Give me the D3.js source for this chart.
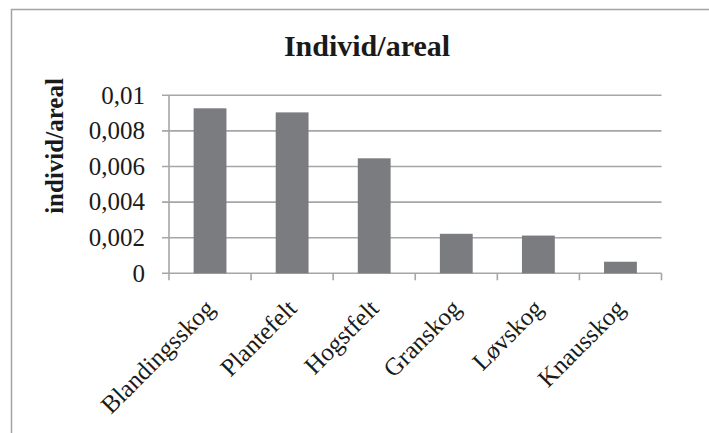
<!DOCTYPE html>
<html>
<head>
<meta charset="utf-8">
<style>
  body { margin: 0; background: #fff; }
  svg text { font-family: "Liberation Serif", "Times New Roman", serif; fill: #1a1a1a; }
</style>
</head>
<body>
<div id="chart"></div>
<script src="https://d3js.org/d3.v7.min.js"></script>
<script>
// data
var categories = ["Blandingsskog", "Plantefelt", "Hogstfelt", "Granskog", "Løvskog", "Knausskog"];
var values = [0.00927, 0.00904, 0.00646, 0.00222, 0.00212, 0.00065];
var yTicks = [0, 0.002, 0.004, 0.006, 0.008, 0.01];
var yTickLabels = ["0", "0,002", "0,004", "0,006", "0,008", "0,01"];
var chartTitle = "Individ/areal";
var yTitle = "individ/areal";

var width = 709, height = 433;
var plotLeft = 169, plotRight = 661.5, plotTop = 95.3, plotBottom = 273.3;
var gridColor = "#a6a6a6", barColor = "#7b7c80";

var svg = d3.select("#chart")
    .append("svg")
    .attr("width", width)
    .attr("height", height);

// chart frame (only left and top edges are in view)
svg.append("rect")
    .attr("x", 11.5).attr("y", 9.5)
    .attr("width", 740).attr("height", 460)
    .attr("fill", "none")
    .attr("stroke", "#a3a3a3")
    .attr("stroke-width", 1.5);

var x = d3.scaleBand()
    .domain(categories)
    .range([plotLeft, plotRight])
    .paddingInner(0.6)
    .paddingOuter(0.3);

var y = d3.scaleLinear()
    .domain([0, 0.01])
    .range([plotBottom, plotTop]);

// gridlines
svg.append("g")
    .selectAll("line")
    .data(yTicks)
    .enter()
    .append("line")
    .attr("x1", plotLeft - 7)
    .attr("x2", plotRight)
    .attr("y1", function(d) { return y(d); })
    .attr("y2", function(d) { return y(d); })
    .attr("stroke", gridColor)
    .attr("stroke-width", 1.6);

// y axis line
svg.append("line")
    .attr("x1", plotLeft).attr("x2", plotLeft)
    .attr("y1", plotTop).attr("y2", plotBottom)
    .attr("stroke", gridColor)
    .attr("stroke-width", 1.6);

// y tick labels
svg.append("g")
    .selectAll("text")
    .data(yTicks)
    .enter()
    .append("text")
    .attr("x", 145)
    .attr("y", function(d) { return y(d); })
    .attr("dy", "0.33em")
    .attr("text-anchor", "end")
    .style("font-size", "25px")
    .text(function(d, i) { return yTickLabels[i]; });

// x axis ticks at category boundaries
var step = x.step();
var bounds = d3.range(categories.length + 1).map(function(i) { return plotLeft + i * step; });
svg.append("g")
    .selectAll("line")
    .data(bounds)
    .enter()
    .append("line")
    .attr("x1", function(d) { return d; })
    .attr("x2", function(d) { return d; })
    .attr("y1", plotBottom)
    .attr("y2", plotBottom + 7)
    .attr("stroke", gridColor)
    .attr("stroke-width", 1.6);

// bars
svg.append("g")
    .selectAll("rect")
    .data(values)
    .enter()
    .append("rect")
    .attr("x", function(d, i) { return x(categories[i]); })
    .attr("width", x.bandwidth())
    .attr("y", function(d) { return y(d); })
    .attr("height", function(d) { return plotBottom - y(d); })
    .attr("fill", barColor);

// category labels, rotated
svg.append("g")
    .selectAll("text")
    .data(categories)
    .enter()
    .append("text")
    .attr("transform", function(d) {
        var cx = x(d) + x.bandwidth() / 2;
        return "translate(" + (cx + 6) + "," + 310 + ") rotate(-45)";
    })
    .attr("text-anchor", "end")
    .style("font-size", "25px")
    .text(function(d) { return d; });

// titles
svg.append("text")
    .attr("x", 367)
    .attr("y", 56)
    .attr("text-anchor", "middle")
    .style("font-size", "30px")
    .style("font-weight", "bold")
    .text(chartTitle);

svg.append("text")
    .attr("transform", "translate(63,146) rotate(-90)")
    .attr("text-anchor", "middle")
    .style("font-size", "25px")
    .style("font-weight", "bold")
    .text(yTitle);
</script>
</body>
</html>
